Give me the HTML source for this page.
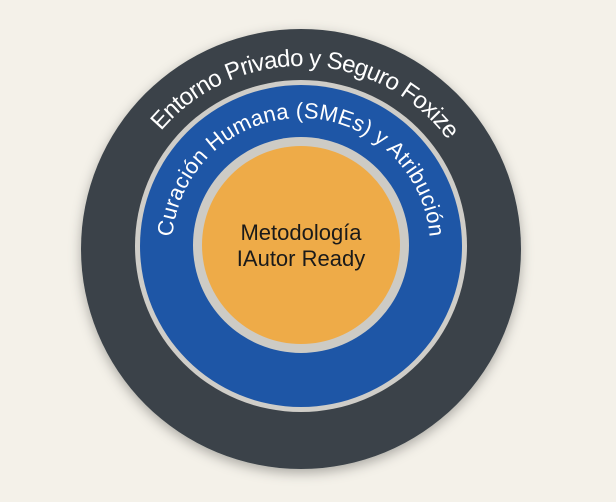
<!DOCTYPE html>
<html><head><meta charset="utf-8"><style>
html,body{margin:0;padding:0;background:#f4f1e9;}
svg{display:block;}
text{font-family:"Liberation Sans",sans-serif;}
</style></head><body>
<svg width="616" height="502" viewBox="0 0 616 502">
<defs>
<filter id="sh" x="-20%" y="-20%" width="140%" height="140%"><feDropShadow dx="0" dy="4" stdDeviation="6" flood-opacity="0.3"/></filter>
<path id="p1" d="M 118 249 A 183 183 0 0 1 484 249"/>
<path id="p2" d="M 172 247 A 129 129 0 0 1 430 247"/>
</defs>
<rect width="616" height="502" fill="#f4f1e9"/>
<circle cx="301" cy="249" r="220" fill="#3b4349" filter="url(#sh)"/>
<circle cx="301" cy="246" r="166" fill="#cfcdc8"/>
<circle cx="301" cy="246" r="161" fill="#1e56a6"/>
<circle cx="301" cy="245" r="108" fill="#cdcbc5"/>
<circle cx="301" cy="245" r="99" fill="#eeab48"/>
<text font-size="24" fill="#fff"><textPath href="#p1" startOffset="51%" text-anchor="middle" textLength="330" lengthAdjust="spacing">Entorno Privado y Seguro Foxize</textPath></text>
<text font-size="22" fill="#fff"><textPath href="#p2" startOffset="50%" text-anchor="middle" textLength="385" lengthAdjust="spacing">Curación Humana (SMEs) y Atribución</textPath></text>
<text x="301" y="240" font-size="22" fill="#1a1a1a" text-anchor="middle">Metodología</text>
<text x="301" y="266" font-size="22" fill="#1a1a1a" text-anchor="middle">IAutor Ready</text>
</svg>
</body></html>
